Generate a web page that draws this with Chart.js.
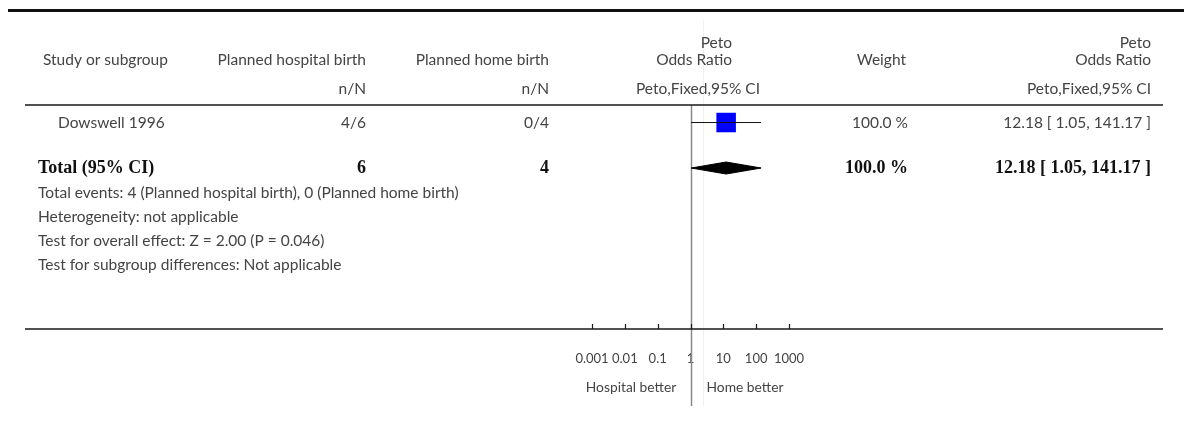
<!DOCTYPE html>
<html>
<head>
<meta charset="utf-8">
<script src="https://cdn.jsdelivr.net/npm/chart.js@4.4.1/dist/chart.umd.min.js"></script>
<style>
  html, body { margin: 0; padding: 0; background: #fff; }
  #wrap { width: 1184px; height: 432px; }
</style>
</head>
<body>
<div id="wrap"><canvas id="forest" width="1184" height="432"></canvas></div>
<script>
// data
const studies = ["Dowswell 1996"];
const hospitalEvents = ["4/6"];
const homeEvents = ["0/4"];
const studyWeights = [100.0];
const oddsRatios = [12.18];
const ciLower = [1.05];
const ciUpper = [141.17];

const totalHospital = 6;
const totalHome = 4;
const totalWeight = 100.0;
const totalOR = 12.18;
const totalLower = 1.05;
const totalUpper = 141.17;

const tickValues = [0.001, 0.01, 0.1, 1, 10, 100, 1000];
const tickLabels = ["0.001", "0.01", "0.1", "1", "10", "100", "1000"];

const footnotes = [
    "Total events: 4 (Planned hospital birth), 0 (Planned home birth)",
    "Heterogeneity: not applicable",
    "Test for overall effect: Z = 2.00 (P = 0.046)",
    "Test for subgroup differences: Not applicable"
];

const SANS = "Lato, 'Open Sans', sans-serif";
const SERIF = "'Liberation Serif', 'DejaVu Serif', serif";
const TEXT = "#444";
const DIAMOND_HALF = 0.132; // row units

const totalRow = studies.length;

function ciText(or, lo, hi) {
    return `${or.toFixed(2)} [ ${lo.toFixed(2)}, ${hi.toFixed(2)} ]`;
}

const ciDatasets = studies.map((s, i) => ({
    type: "line",
    label: s + " CI",
    data: [{ x: ciLower[i], y: i }, { x: ciUpper[i], y: i }],
    borderColor: "#111",
    borderWidth: 1,
    pointRadius: 0,
    tension: 0,
    order: 0
}));

const squareDataset = {
    type: "scatter",
    label: "Studies",
    data: studies.map((s, i) => ({ x: oddsRatios[i], y: i })),
    pointStyle: "rect",
    pointRadius: 13.8,
    backgroundColor: "#0000ff",
    borderWidth: 0,
    order: 1
};

const diamondDataset = {
    type: "line",
    label: "Total",
    data: [
        { x: totalLower, y: totalRow },
        { x: totalOR, y: totalRow - DIAMOND_HALF },
        { x: totalUpper, y: totalRow },
        { x: totalOR, y: totalRow + DIAMOND_HALF },
        { x: totalLower, y: totalRow }
    ],
    borderColor: "#000",
    backgroundColor: "#000",
    borderWidth: 1,
    pointRadius: 0,
    tension: 0,
    fill: "shape",
    order: 0
};

function txt(ctx, s, x, y, align, font, color) {
    ctx.font = font;
    ctx.fillStyle = color || TEXT;
    ctx.textAlign = align;
    ctx.textBaseline = "middle";
    ctx.fillText(s, x, y);
}

const tablePlugin = {
    id: "forestTable",
    beforeDatasetsDraw(chart) {
        const ctx = chart.ctx;
        const xs = chart.scales.x;
        const area = chart.chartArea;
        ctx.save();
        // faint scan line
        ctx.strokeStyle = "#f0f0f0";
        ctx.lineWidth = 1;
        ctx.beginPath();
        ctx.moveTo(703.5, 20);
        ctx.lineTo(703.5, 406);
        ctx.stroke();
        // no-effect line
        const x1 = Math.round(xs.getPixelForValue(1)) + 0.5;
        ctx.strokeStyle = "#8a8a8a";
        ctx.lineWidth = 1.5;
        ctx.beginPath();
        ctx.moveTo(x1, area.top);
        ctx.lineTo(x1, 406);
        ctx.stroke();
        ctx.restore();
    },
    afterDraw(chart) {
        const ctx = chart.ctx;
        const xs = chart.scales.x;
        const ys = chart.scales.y;
        const area = chart.chartArea;
        ctx.save();
        // rules
        ctx.strokeStyle = "#111";
        ctx.lineWidth = 3;
        ctx.beginPath();
        ctx.moveTo(8, 10.5);
        ctx.lineTo(1184, 10.5);
        ctx.stroke();
        ctx.lineWidth = 1.6;
        ctx.strokeStyle = "#1a1a1a";
        ctx.beginPath();
        ctx.moveTo(25, area.top);
        ctx.lineTo(1163, area.top);
        ctx.moveTo(25, area.bottom);
        ctx.lineTo(1163, area.bottom);
        ctx.stroke();
        // upward tick marks
        ctx.lineWidth = 1.2;
        ctx.beginPath();
        xs.ticks.forEach(t => {
            const px = Math.round(xs.getPixelForValue(t.value)) + 0.5;
            ctx.moveTo(px, area.bottom - 5);
            ctx.lineTo(px, area.bottom);
        });
        ctx.stroke();

        const f = "15.5px " + SANS;
        // header
        txt(ctx, "Study or subgroup", 43, 60, "left", f);
        txt(ctx, "Planned hospital birth", 366, 60, "right", f);
        txt(ctx, "n/N", 366, 89, "right", f);
        txt(ctx, "Planned home birth", 549, 60, "right", f);
        txt(ctx, "n/N", 549, 89, "right", f);
        txt(ctx, "Peto", 732, 43, "right", f);
        txt(ctx, "Odds Ratio", 732, 60, "right", f);
        txt(ctx, "Peto,Fixed,95% CI", 760, 89, "right", f);
        txt(ctx, "Weight", 906, 60, "right", f);
        txt(ctx, "Peto", 1151, 43, "right", f);
        txt(ctx, "Odds Ratio", 1151, 60, "right", f);
        txt(ctx, "Peto,Fixed,95% CI", 1151, 89, "right", f);

        // studies
        studies.forEach((s, i) => {
            const y = ys.getPixelForValue(i);
            txt(ctx, s, 58, y, "left", f);
            txt(ctx, hospitalEvents[i], 366, y, "right", f);
            txt(ctx, homeEvents[i], 549, y, "right", f);
            txt(ctx, studyWeights[i].toFixed(1) + " %", 908, y, "right", f);
            txt(ctx, ciText(oddsRatios[i], ciLower[i], ciUpper[i]), 1151, y, "right", f);
        });

        // total
        const ty = ys.getPixelForValue(totalRow);
        const b = "bold 18px " + SERIF;
        txt(ctx, "Total (95% CI)", 38, ty, "left", b, "#111");
        txt(ctx, String(totalHospital), 366, ty, "right", b, "#111");
        txt(ctx, String(totalHome), 549, ty, "right", b, "#111");
        txt(ctx, totalWeight.toFixed(1) + " %", 908, ty, "right", b, "#111");
        txt(ctx, ciText(totalOR, totalLower, totalUpper), 1151, ty, "right", b, "#111");

        footnotes.forEach((s, i) => {
            txt(ctx, s, 38, 193 + i * 24, "left", f);
        });

        // favours labels
        const sf = "13.8px " + SANS;
        txt(ctx, "Hospital better", 631, 388, "center", sf);
        txt(ctx, "Home better", 745, 388, "center", sf);
        ctx.restore();
    }
};

new Chart(document.getElementById("forest"), {
    type: "scatter",
    data: { datasets: [...ciDatasets, squareDataset, diamondDataset] },
    options: {
        responsive: false,
        animation: false,
        layout: { padding: { left: 592, right: 395, top: 105, bottom: 63 } },
        plugins: {
            legend: { display: false },
            tooltip: { enabled: false }
        },
        scales: {
            x: {
                type: "logarithmic",
                position: "bottom",
                min: tickValues[0],
                max: tickValues[tickValues.length - 1],
                afterBuildTicks: scale => {
                    scale.ticks = tickValues.map(v => ({ value: v }));
                },
                afterFit: scale => { scale.height = 40; },
                ticks: {
                    autoSkip: false,
                    maxRotation: 0,
                    padding: 22,
                    color: TEXT,
                    font: { family: SANS, size: 13 },
                    callback: (value, index) => tickLabels[index]
                },
                grid: { display: false, drawTicks: false },
                border: { display: false }
            },
            y: {
                type: "linear",
                reverse: true,
                min: -0.385,
                max: 4.538,
                display: false
            }
        }
    },
    plugins: [tablePlugin]
});
</script>
</body>
</html>
